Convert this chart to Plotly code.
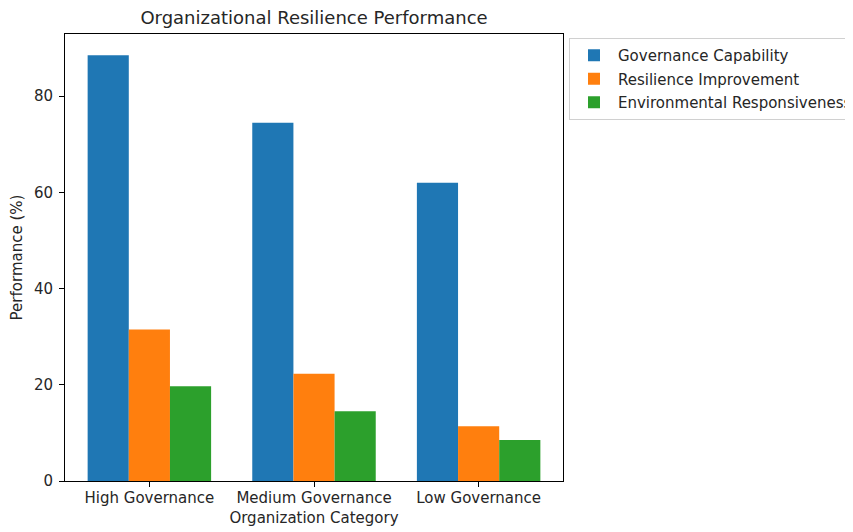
import plotly.graph_objects as go

categories = ["High Governance", "Medium Governance", "Low Governance"]
series_names = ["Governance Capability", "Resilience Improvement", "Environmental Responsiveness"]
governance_capability = [88.5, 74.5, 62.0]
resilience_improvement = [31.5, 22.3, 11.4]
environmental_responsiveness = [19.7, 14.5, 8.5]
y_ticks = [0, 20, 40, 60, 80]

colors = ["#1f77b4", "#ff7f0e", "#2ca02c"]
values = [governance_capability, resilience_improvement, environmental_responsiveness]

FONT = "DejaVu Sans"
TXT = "#262626"

# page body has an 8px margin; figure is sized to the remaining viewport
W, H = 845, 524
L, R, T, B = 57, 290, 26, 51

fig = go.Figure()
for i, (name, vals) in enumerate(zip(series_names, values)):
    fig.add_trace(go.Bar(
        x=categories, y=vals, name=name,
        marker=dict(color=colors[i], line=dict(width=0)),
        legendgroup=f"g{i}",
    ))

ymax = max(governance_capability) * 1.05
plot_h = H - T - B

fig.update_layout(
    width=W, height=H,
    margin=dict(l=L, r=R, t=T, b=B, autoexpand=False),
    paper_bgcolor="white", plot_bgcolor="white",
    barmode="group", bargap=0.25, bargroupgap=0,
    font=dict(family=FONT, size=15, color=TXT),
    title=dict(text="Organizational Resilience Performance",
               x=(L + (W - R)) / 2 / W, xanchor="center",
               y=1 - 10 / H, yanchor="middle",
               font=dict(family=FONT, size=18, color=TXT)),
    showlegend=True,
    legend=dict(x=1.012, y=(plot_h - 4) / plot_h, xanchor="left", yanchor="top",
                bordercolor="#d0d0d0", borderwidth=1,
                font=dict(family=FONT, size=15, color=TXT),
                traceorder="grouped", tracegroupgap=1,
                itemwidth=38,
                bgcolor="white"),
)
fig.update_xaxes(
    range=[-0.5125, 2.5125], automargin=False,
    showline=True, linecolor="black", linewidth=1, mirror=True,
    ticks="outside", ticklen=5, tickcolor="black",
    showgrid=False, zeroline=False, ticklabelstandoff=-2,
    tickfont=dict(family=FONT, size=15, color=TXT),
    title=dict(text="Organization Category", standoff=6,
               font=dict(family=FONT, size=15, color=TXT)),
)
fig.update_yaxes(
    range=[0, ymax], automargin=False,
    tickvals=y_ticks,
    showline=True, linecolor="black", linewidth=1, mirror=True,
    ticks="outside", ticklen=5, tickcolor="black",
    showgrid=False, zeroline=False, ticklabelstandoff=3,
    tickfont=dict(family=FONT, size=15, color=TXT),
    title=dict(text="Performance (%)", standoff=10,
               font=dict(family=FONT, size=15, color=TXT)),
)

fig.write_html("out.html")
